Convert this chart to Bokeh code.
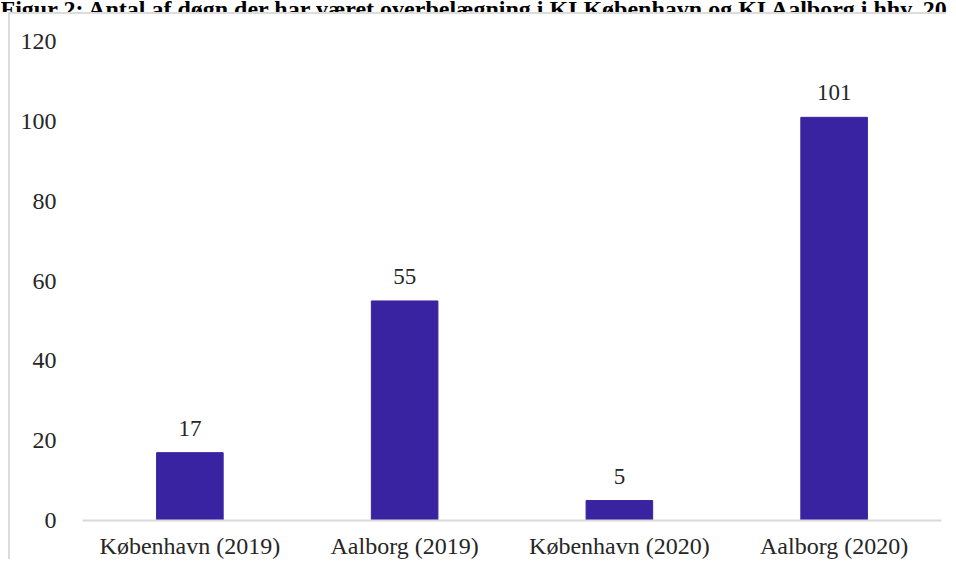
from bokeh.plotting import figure
from bokeh.layouts import column
from bokeh.models import (FactorRange, Range1d, ColumnDataSource, LabelSet, Label,
                          SingleIntervalTicker)
from bokeh.embed import file_html
from bokeh.resources import INLINE

# ---- data ----
categories = ["København (2019)", "Aalborg (2019)", "København (2020)", "Aalborg (2020)"]
values = [17, 55, 5, 101]
title_text = "Figur 2: Antal af døgn der har været overbelægning i KI København og KI Aalborg i hhv. 2019 og 2020"

BAR = "#3A23A0"
TXT = "#262626"
FONT = "Liberation Serif"

# ---- document title strip (cropped at the top, as in the source page) ----
t = figure(width=948, height=12, output_backend="svg", toolbar_location=None,
           x_range=Range1d(0, 948), y_range=Range1d(0, 12),
           x_axis_type=None, y_axis_type=None,
           min_border=0, min_border_left=0, min_border_right=0,
           min_border_top=0, min_border_bottom=0)
t.frame_align = False
t.outline_line_color = None
t.xgrid.grid_line_color = None
t.ygrid.grid_line_color = None
t.add_layout(Label(x=0, y=4, text=title_text, text_font=FONT, text_font_style="bold",
                   text_font_size="24px", text_color="#000000",
                   text_baseline="alphabetic", text_align="left"))

# ---- chart ----
src = ColumnDataSource(dict(cat=categories, val=values, lbl=[str(v) for v in values]))

p = figure(width=938, height=547, output_backend="svg", toolbar_location=None,
           x_range=FactorRange(*categories, range_padding=0, factor_padding=0),
           y_range=Range1d(0, 120),
           min_border_left=72, min_border_right=7, min_border_top=27, min_border_bottom=40)
p.frame_align = False
p.styles = {"margin-left": "8px", "border-left": "2px solid #dcdcdc",
            "border-top": "2px solid #dcdcdc"}
p.outline_line_color = None
p.xgrid.grid_line_color = None
p.ygrid.grid_line_color = None

p.vbar(x="cat", top="val", width=0.31, source=src, fill_color=BAR, line_color=BAR)

labels = LabelSet(x="cat", y="val", text="lbl", source=src, y_offset=17,
                  text_align="center", text_baseline="alphabetic",
                  text_font=FONT, text_font_size="23px", text_color=TXT)
p.add_layout(labels)

# y axis
p.yaxis.ticker = SingleIntervalTicker(interval=20)
p.yaxis.axis_line_color = None
p.yaxis.major_tick_line_color = None
p.yaxis.minor_tick_line_color = None
p.yaxis.major_label_standoff = 20
p.yaxis.major_label_text_font = FONT
p.yaxis.major_label_text_font_size = "24px"
p.yaxis.major_label_text_color = TXT

# x axis
p.xaxis.axis_line_color = "#d9d9d9"
p.xaxis.axis_line_width = 2
p.xaxis.major_tick_line_color = None
p.xaxis.minor_tick_line_color = None
p.xaxis.major_label_standoff = 6
p.xaxis.major_label_text_font = FONT
p.xaxis.major_label_text_font_size = "24px"
p.xaxis.major_label_text_color = TXT

layout = column(t, p, spacing=0)

open("out.html", "w").write(file_html(layout, INLINE))
